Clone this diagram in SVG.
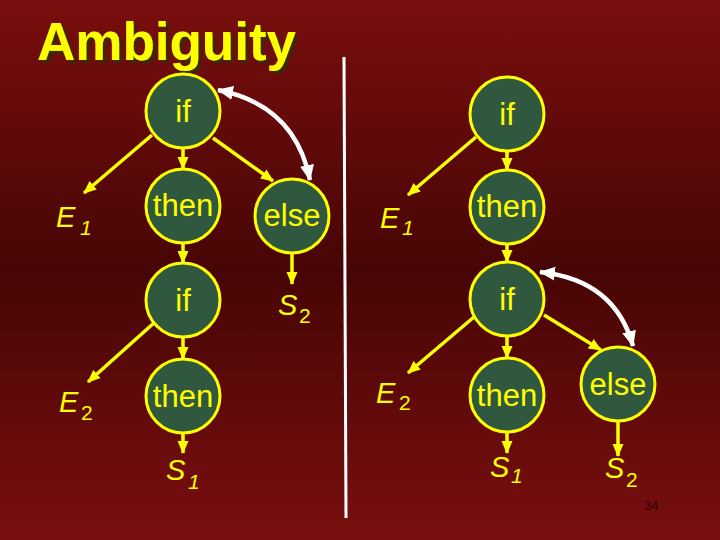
<svg xmlns="http://www.w3.org/2000/svg" width="720" height="540" viewBox="0 0 720 540">
<defs>
<linearGradient id="bg" x1="0" y1="0" x2="0" y2="1">
<stop offset="0" stop-color="#7a0e0e"/>
<stop offset="0.5" stop-color="#470505"/>
<stop offset="1" stop-color="#7a0f0f"/>
</linearGradient>
<filter id="sh" x="-5%" y="-20%" width="115%" height="150%">
<feDropShadow dx="3" dy="3" stdDeviation="0.6" flood-color="#3a2a05" flood-opacity="1"/>
</filter>
<marker id="ya" markerUnits="userSpaceOnUse" markerWidth="13" markerHeight="13" viewBox="0 0 13 13" refX="12" refY="6.5" orient="auto">
<path d="M0,1 L13,6.5 L0,12 Z" fill="#ffff00"/>
</marker>
<marker id="wa" markerUnits="userSpaceOnUse" markerWidth="16" markerHeight="16" viewBox="0 0 16 16" refX="15" refY="8" orient="auto-start-reverse">
<path d="M0,1 L16,8 L0,15 Z" fill="#ffffff"/>
</marker>
</defs>
<style>
.n{fill:#30583f;stroke:#ffff00;stroke-width:3}
.t{font-family:"Liberation Sans",Arial,sans-serif;font-size:31px;fill:#ffff00;text-anchor:middle}
.l{font-family:"Liberation Sans",Arial,sans-serif;font-size:29px;fill:#ffff00;font-style:italic}
.s1{font-family:"Liberation Sans",Arial,sans-serif;font-size:21px;fill:#ffff00;font-style:italic}
.s2{font-family:"Liberation Sans",Arial,sans-serif;font-size:21px;fill:#ffff00}
.e{stroke:#ffff00;stroke-width:3.5;fill:none;marker-end:url(#ya)}
.w{stroke:#ffffff;stroke-width:4.5;fill:none;marker-start:url(#wa);marker-end:url(#wa)}
</style>
<rect width="720" height="540" fill="url(#bg)"/>
<text x="37" y="60" font-family="Liberation Sans,Arial,sans-serif" font-weight="bold" font-size="53" fill="#ffff00" filter="url(#sh)">Ambiguity</text>
<line x1="344" y1="57" x2="346" y2="518" stroke="#ffffff" stroke-width="3"/>
<g id="connectors">
<line class="e" x1="152" y1="135" x2="84" y2="193"/>
<line class="e" x1="183" y1="148" x2="183" y2="169"/>
<line class="e" x1="213" y1="138" x2="273" y2="181"/>
<line class="e" x1="183" y1="243" x2="183" y2="263"/>
<line class="e" x1="292" y1="253" x2="292" y2="284"/>
<line class="e" x1="155" y1="322" x2="88" y2="382"/>
<line class="e" x1="183" y1="337" x2="183" y2="359"/>
<line class="e" x1="183" y1="433" x2="183" y2="453"/>
<line class="e" x1="476" y1="137" x2="408" y2="195"/>
<line class="e" x1="507" y1="150" x2="507" y2="170"/>
<line class="e" x1="507" y1="244" x2="507" y2="262"/>
<line class="e" x1="474" y1="317" x2="408" y2="373"/>
<line class="e" x1="507" y1="336" x2="507" y2="358"/>
<line class="e" x1="544" y1="315" x2="601" y2="350"/>
<line class="e" x1="507" y1="432" x2="507" y2="453"/>
<line class="e" x1="618" y1="421" x2="618" y2="456"/>
<path class="w" d="M218 90 Q295 105 310 180"/>
<path class="w" d="M540 272 Q615 280 633 346"/>
</g>
<g id="L_if1"><circle class="n" cx="183" cy="111" r="37"/><text class="t" x="183" y="122">if</text></g>
<g id="L_then1"><circle class="n" cx="183" cy="206" r="37"/><text class="t" x="183" y="216">then</text></g>
<g id="L_else"><circle class="n" cx="292" cy="216" r="37"/><text class="t" x="292" y="226">else</text></g>
<g id="L_if2"><circle class="n" cx="183" cy="300" r="37"/><text class="t" x="183" y="311">if</text></g>
<g id="L_then2"><circle class="n" cx="183" cy="396" r="37"/><text class="t" x="183" y="407">then</text></g>
<g id="L_E1"><text class="l" x="56" y="227">E</text><text class="s1" x="80" y="235">1</text></g>
<g id="L_E2"><text class="l" x="59" y="412">E</text><text class="s2" x="81" y="420">2</text></g>
<g id="L_S2"><text class="l" x="278" y="315">S</text><text class="s2" x="299" y="323">2</text></g>
<g id="L_S1"><text class="l" x="166" y="480">S</text><text class="s1" x="188" y="489">1</text></g>
<g id="R_if1"><circle class="n" cx="507" cy="114" r="37"/><text class="t" x="507" y="125">if</text></g>
<g id="R_then1"><circle class="n" cx="507" cy="207" r="37"/><text class="t" x="507" y="217">then</text></g>
<g id="R_if2"><circle class="n" cx="507" cy="299" r="37"/><text class="t" x="507" y="310">if</text></g>
<g id="R_then2"><circle class="n" cx="507" cy="395" r="37"/><text class="t" x="507" y="406">then</text></g>
<g id="R_else"><circle class="n" cx="618" cy="384" r="37"/><text class="t" x="618" y="395">else</text></g>
<g id="R_E1"><text class="l" x="380" y="228">E</text><text class="s1" x="402" y="235">1</text></g>
<g id="R_E2"><text class="l" x="376" y="403">E</text><text class="s2" x="399" y="410">2</text></g>
<g id="R_S1"><text class="l" x="490" y="477">S</text><text class="s1" x="511" y="483">1</text></g>
<g id="R_S2"><text class="l" x="605" y="478">S</text><text class="s2" x="626" y="487">2</text></g>
<text x="644" y="510" font-family="Liberation Sans,Arial,sans-serif" font-size="13" fill="#2a0000">34</text>
</svg>
